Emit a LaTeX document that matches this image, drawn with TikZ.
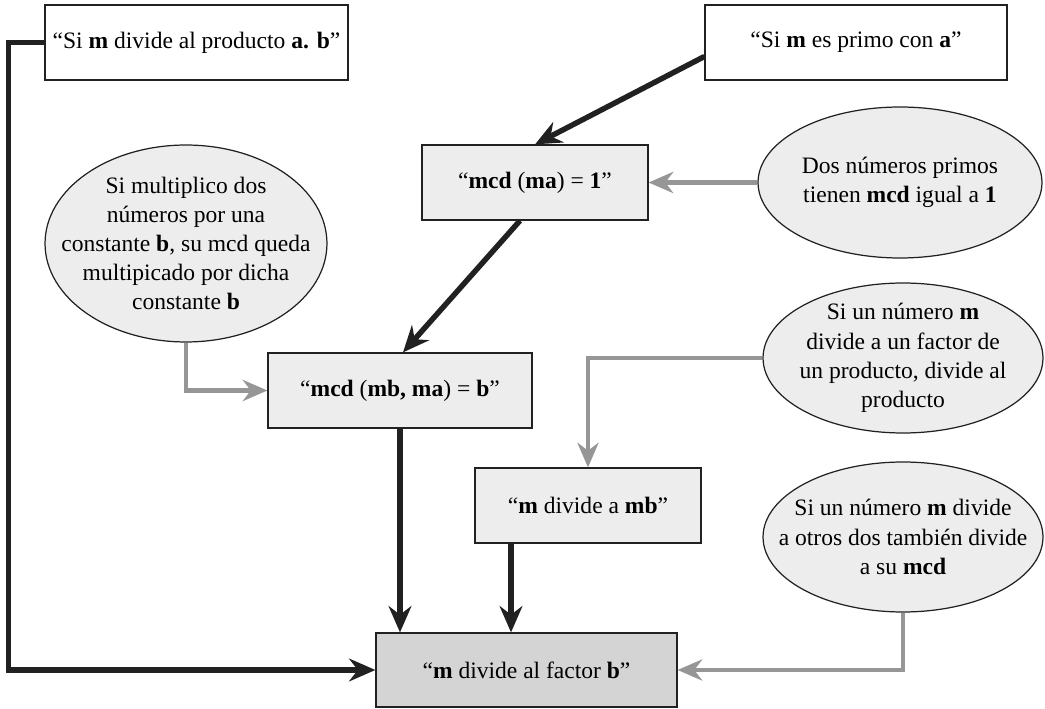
\documentclass[tikz,border=0pt]{standalone}
\usepackage{fontspec}
\setmainfont{Liberation Serif}
\usepackage{xcolor}
\usetikzlibrary{arrows.meta,shapes.geometric}

\definecolor{lightfill}{gray}{0.93}
\definecolor{darkfill}{gray}{0.83}
\definecolor{linkgray}{gray}{0.59}
\definecolor{linkblack}{gray}{0.13}

\tikzset{
  txt/.style={font=\fontsize{13.4}{16.6}\selectfont, align=center},
  stmt/.style={txt, draw=linkblack, line width=0.7pt, rectangle, minimum height=1.5cm, inner sep=2pt},
  idea/.style={txt, draw=linkblack, line width=0.7pt, ellipse, fill=lightfill, inner sep=-1cm},
  blk/.style={draw=linkblack, line width=3.1pt, -{Stealth[length=15pt,width=13pt,inset=5pt]}},
  gry/.style={draw=linkgray, line width=2.6pt, -{Stealth[length=14pt,width=12pt,inset=4.5pt]}}
}

\begin{document}
\begin{tikzpicture}[x=0.02cm,y=-0.02cm]
\useasboundingbox (0,0) rectangle (1045,709);

\node[stmt,fill=white,minimum width=6.06cm] (topl) at (196.5,42.5)
  {“Si \textbf{m} divide al producto \textbf{a. b}”};
\node[stmt,fill=white,minimum width=6.04cm] (topr) at (856,42.5)
  {“Si \textbf{m} es primo con \textbf{a}”};
\node[stmt,fill=lightfill,minimum width=4.52cm] (mcdma) at (535,182.5)
  {“\textbf{mcd} (\textbf{ma}) = \textbf{1}”};
\node[idea,minimum width=5.68cm,minimum height=3.02cm] (primos) at (900,182.5)
  {Dos números primos\\tienen \textbf{mcd} igual a \textbf{1}};
\node[idea,minimum width=5.64cm,minimum height=3.94cm] (multi) at (186,243.5)
  {Si multiplico dos\\números por una\\constante \textbf{b}, su mcd queda\\multipicado por dicha\\constante \textbf{b}};
\node[stmt,fill=lightfill,minimum width=5.28cm] (mcdmb) at (400,390.5)
  {“\textbf{mcd} (\textbf{mb, ma}) = \textbf{b}”};
\node[idea,minimum width=5.6cm,minimum height=3cm] (factor) at (903,358)
  {Si un número \textbf{m}\\divide a un factor de\\un producto, divide al\\producto};
\node[stmt,fill=lightfill,minimum width=4.52cm] (mdiv) at (588,505.5)
  {“\textbf{m} divide a \textbf{mb}”};
\node[idea,minimum width=5.6cm,minimum height=3cm] (otros) at (903,537)
  {Si un número \textbf{m} divide\\a otros dos también divide\\a su \textbf{mcd}};
\node[stmt,fill=darkfill,minimum width=6.02cm,minimum height=1.48cm] (final) at (526.5,670)
  {“\textbf{m} divide al factor \textbf{b}”};

\coordinate (toprout) at ([yshift=-0.28cm]topr.west);
\coordinate (mcdmaout) at ([xshift=-0.3cm]mcdma.south);
\coordinate (mcdmbin) at ([xshift=0.06cm]mcdmb.north);
\coordinate (mdivout) at ([xshift=-1.54cm]mdiv.south);

\draw[blk] (topl.west) -- ++(-36,0) |- (final.west);
\draw[blk] (toprout) -- (mcdma.north);
\draw[gry] (primos.west) -- (mcdma.east);
\draw[blk] (mcdmaout) -- (mcdmbin);
\draw[gry] (multi.south) |- (mcdmb.west);
\draw[blk] (mcdmb.south) -- (mcdmb.south |- final.north);
\draw[gry] (factor.west) -| (mdiv.north);
\draw[blk] (mdivout) -- (mdivout |- final.north);
\draw[gry] (otros.south) |- (final.east);
\end{tikzpicture}
\end{document}
